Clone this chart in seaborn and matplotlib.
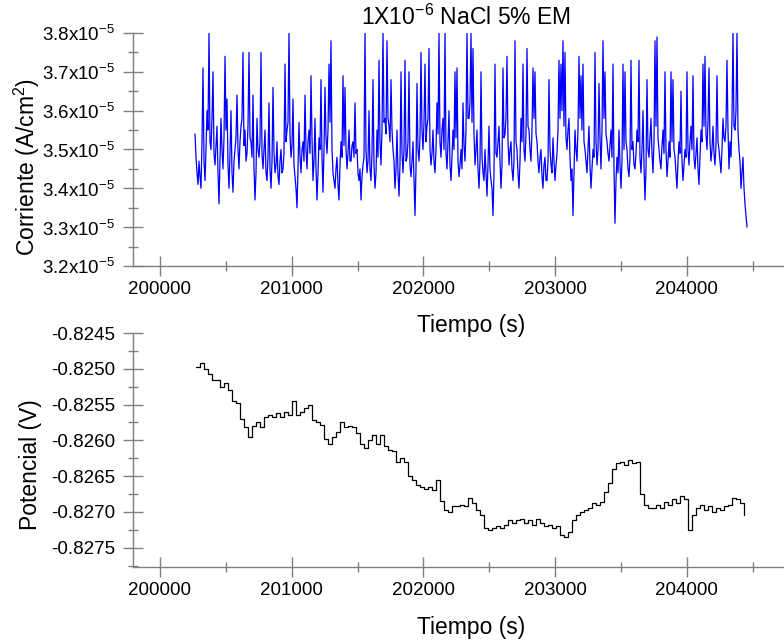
import numpy as np
import pandas as pd
import seaborn as sns
import matplotlib.pyplot as plt
from matplotlib.ticker import MultipleLocator, FuncFormatter


cur_t_start = 200266
cur_t_end = 204457
corriente = [
    3.54, 3.48, 3.44, 3.41, 3.47, 3.43, 3.40, 3.52, 3.71, 3.47, 3.42, 3.50, 3.60, 3.55, 3.80, 3.52, 3.50, 3.58, 3.70, 3.49,
    3.46, 3.51, 3.56, 3.44, 3.36, 3.47, 3.58, 3.50, 3.45, 3.53, 3.74, 3.55, 3.63, 3.46, 3.40, 3.49, 3.60, 3.44, 3.39, 3.47,
    3.50, 3.53, 3.64, 3.50, 3.45, 3.52, 3.56, 3.58, 3.75, 3.51, 3.55, 3.47, 3.49, 3.56, 3.75, 3.53, 3.52, 3.48, 3.64, 3.45,
    3.37, 3.44, 3.58, 3.50, 3.48, 3.52, 3.75, 3.49, 3.45, 3.50, 3.55, 3.44, 3.42, 3.48, 3.62, 3.45, 3.40, 3.47, 3.66, 3.49,
    3.44, 3.46, 3.52, 3.43, 3.41, 3.47, 3.50, 3.44, 3.45, 3.49, 3.72, 3.52, 3.55, 3.57, 3.80, 3.54, 3.48, 3.51, 3.63, 3.46,
    3.43, 3.40, 3.35, 3.45, 3.57, 3.48, 3.44, 3.50, 3.52, 3.47, 3.64, 3.50, 3.45, 3.52, 3.55, 3.49, 3.69, 3.53, 3.42, 3.47,
    3.58, 3.45, 3.37, 3.44, 3.53, 3.50, 3.68, 3.48, 3.39, 3.50, 3.66, 3.53, 3.49, 3.55, 3.72, 3.57, 3.78, 3.50, 3.44, 3.42,
    3.40, 3.45, 3.48, 3.41, 3.37, 3.46, 3.52, 3.48, 3.69, 3.51, 3.66, 3.50, 3.45, 3.49, 3.55, 3.47, 3.47, 3.51, 3.52, 3.48,
    3.62, 3.49, 3.50, 3.44, 3.42, 3.45, 3.37, 3.43, 3.46, 3.48, 3.80, 3.50, 3.44, 3.47, 3.60, 3.45, 3.42, 3.49, 3.68, 3.46,
    3.40, 3.44, 3.55, 3.48, 3.73, 3.52, 3.46, 3.55, 3.80, 3.57, 3.58, 3.54, 3.78, 3.58, 3.56, 3.52, 3.68, 3.55, 3.50, 3.47,
    3.40, 3.45, 3.55, 3.44, 3.38, 3.46, 3.70, 3.49, 3.44, 3.50, 3.73, 3.47, 3.48, 3.52, 3.70, 3.46, 3.43, 3.47, 3.52, 3.42,
    3.33, 3.45, 3.67, 3.50, 3.47, 3.53, 3.75, 3.55, 3.50, 3.57, 3.72, 3.52, 3.56, 3.58, 3.76, 3.50, 3.46, 3.49, 3.55, 3.47,
    3.44, 3.50, 3.62, 3.54, 3.80, 3.52, 3.48, 3.55, 3.58, 3.50, 3.80, 3.49, 3.45, 3.52, 3.60, 3.46, 3.42, 3.48, 3.55, 3.50,
    3.70, 3.53, 3.71, 3.47, 3.43, 3.46, 3.50, 3.45, 3.62, 3.51, 3.47, 3.55, 3.80, 3.58, 3.58, 3.62, 3.80, 3.57, 3.76, 3.54,
    3.46, 3.50, 3.55, 3.45, 3.40, 3.47, 3.70, 3.48, 3.44, 3.42, 3.50, 3.44, 3.38, 3.46, 3.56, 3.45, 3.42, 3.40, 3.33, 3.44,
    3.72, 3.49, 3.48, 3.52, 3.56, 3.47, 3.40, 3.46, 3.71, 3.53, 3.54, 3.58, 3.74, 3.52, 3.46, 3.50, 3.52, 3.45, 3.42, 3.47,
    3.78, 3.52, 3.50, 3.44, 3.40, 3.47, 3.58, 3.52, 3.72, 3.50, 3.47, 3.54, 3.76, 3.56, 3.55, 3.50, 3.47, 3.55, 3.71, 3.58,
    3.70, 3.54, 3.52, 3.47, 3.44, 3.48, 3.50, 3.43, 3.40, 3.46, 3.48, 3.42, 3.42, 3.47, 3.68, 3.50, 3.46, 3.44, 3.53, 3.47,
    3.42, 3.46, 3.49, 3.55, 3.73, 3.58, 3.72, 3.60, 3.78, 3.56, 3.75, 3.53, 3.50, 3.55, 3.58, 3.48, 3.42, 3.45, 3.33, 3.44,
    3.55, 3.50, 3.47, 3.55, 3.74, 3.58, 3.69, 3.55, 3.72, 3.52, 3.50, 3.47, 3.44, 3.50, 3.56, 3.46, 3.40, 3.45, 3.50, 3.48,
    3.75, 3.52, 3.46, 3.50, 3.67, 3.53, 3.45, 3.55, 3.78, 3.58, 3.70, 3.54, 3.52, 3.49, 3.47, 3.51, 3.55, 3.48, 3.72, 3.45,
    3.31, 3.42, 3.48, 3.44, 3.55, 3.46, 3.40, 3.47, 3.72, 3.50, 3.70, 3.52, 3.50, 3.45, 3.43, 3.48, 3.73, 3.50, 3.52, 3.46,
    3.45, 3.49, 3.55, 3.52, 3.73, 3.48, 3.44, 3.50, 3.60, 3.46, 3.37, 3.45, 3.68, 3.50, 3.48, 3.53, 3.58, 3.49, 3.44, 3.52,
    3.78, 3.56, 3.79, 3.53, 3.50, 3.47, 3.45, 3.51, 3.55, 3.49, 3.70, 3.50, 3.43, 3.47, 3.52, 3.48, 3.70, 3.52, 3.68, 3.50,
    3.48, 3.44, 3.40, 3.47, 3.52, 3.49, 3.65, 3.47, 3.42, 3.46, 3.50, 3.48, 3.70, 3.50, 3.46, 3.52, 3.56, 3.50, 3.69, 3.48,
    3.45, 3.49, 3.53, 3.45, 3.41, 3.48, 3.55, 3.52, 3.72, 3.56, 3.74, 3.54, 3.50, 3.57, 3.71, 3.52, 3.47, 3.50, 3.56, 3.49,
    3.46, 3.51, 3.69, 3.52, 3.50, 3.47, 3.44, 3.50, 3.58, 3.53, 3.52, 3.56, 3.73, 3.55, 3.45, 3.52, 3.48, 3.58, 3.80, 3.56,
    3.55, 3.60, 3.80, 3.55, 3.50, 3.47, 3.40, 3.44, 3.48, 3.40, 3.36, 3.33, 3.30,
]

pot_t_start = 200273
pot_t_end = 204434
potencial = [
    -0.82497, -0.82492, -0.82500, -0.82507, -0.82515, -0.82515, -0.82525, -0.82520, -0.82530, -0.82545,
    -0.82548, -0.82570, -0.82582, -0.82595, -0.82580, -0.82575, -0.82582, -0.82568, -0.82565, -0.82568,
    -0.82562, -0.82568, -0.82560, -0.82565, -0.82545, -0.82565, -0.82560, -0.82555, -0.82550, -0.82572,
    -0.82575, -0.82578, -0.82598, -0.82605, -0.82595, -0.82588, -0.82575, -0.82582, -0.82580, -0.82582,
    -0.82590, -0.82605, -0.82610, -0.82600, -0.82592, -0.82605, -0.82592, -0.82608, -0.82613, -0.82615,
    -0.82630, -0.82625, -0.82630, -0.82650, -0.82656, -0.82662, -0.82665, -0.82668, -0.82665, -0.82670,
    -0.82655, -0.82685, -0.82698, -0.82700, -0.82692, -0.82692, -0.82690, -0.82692, -0.82680, -0.82688,
    -0.82698, -0.82705, -0.82722, -0.82725, -0.82722, -0.82720, -0.82722, -0.82718, -0.82712, -0.82715,
    -0.82712, -0.82710, -0.82715, -0.82712, -0.82718, -0.82710, -0.82716, -0.82720, -0.82718, -0.82722,
    -0.82720, -0.82732, -0.82735, -0.82728, -0.82712, -0.82705, -0.82700, -0.82698, -0.82695, -0.82688,
    -0.82690, -0.82686, -0.82672, -0.82660, -0.82640, -0.82632, -0.82630, -0.82635, -0.82628, -0.82632,
    -0.82630, -0.82675, -0.82690, -0.82694, -0.82694, -0.82690, -0.82695, -0.82686, -0.82690, -0.82682,
    -0.82688, -0.82678, -0.82682, -0.82725, -0.82705, -0.82695, -0.82690, -0.82698, -0.82692, -0.82700,
    -0.82695, -0.82698, -0.82692, -0.82690, -0.82680, -0.82682, -0.82688, -0.82705,
]

titulo = "1X10$^{\\mathregular{-6}}$ NaCl 5% EM"

df_cur = pd.DataFrame({
    "t": np.linspace(cur_t_start, cur_t_end, len(corriente)),
    "i": np.array(corriente) * 1e-5,
})
df_pot = pd.DataFrame({
    "t": np.linspace(pot_t_start, pot_t_end, len(potencial)),
    "v": potencial,
})

sns.set_theme(style="white")
plt.rcParams["font.family"] = ["Liberation Sans", "DejaVu Sans"]
plt.rcParams["text.color"] = "black"
plt.rcParams["axes.labelcolor"] = "black"

fig = plt.figure(figsize=(7.84, 6.42), dpi=100)
ax1 = fig.add_axes([0.1696, 0.5857, 0.8304, 0.3629])
ax2 = fig.add_axes([0.1696, 0.1168, 0.8304, 0.3645])

sns.lineplot(data=df_cur, x="t", y="i", ax=ax1, color="#0000ff",
             linewidth=0.9, estimator=None)
sns.lineplot(data=df_pot, x="t", y="v", ax=ax2, color="black",
             linewidth=0.9, estimator=None, drawstyle="steps-post")

gris = "#7f7f7f"
for ax in (ax1, ax2):
    ax.set_xlim(199795, 204738)
    ax.xaxis.set_major_locator(MultipleLocator(1000))
    ax.xaxis.set_minor_locator(MultipleLocator(500))
    ax.spines["top"].set_visible(False)
    ax.spines["right"].set_visible(False)
    for s in ("left", "bottom"):
        ax.spines[s].set_color(gris)
        ax.spines[s].set_linewidth(1.0)
    ax.tick_params(which="major", direction="inout", length=14, width=1,
                   color=gris, labelsize=13.5, labelcolor="black")
    ax.tick_params(which="minor", direction="inout", length=7, width=1,
                   color=gris)
    ax.tick_params(axis="x", which="both", bottom=True, pad=4)
    ax.tick_params(axis="y", which="both", left=True, pad=6)
    ax.set_xlabel("Tiempo (s)", fontsize=16.5)
    ax.patch.set_alpha(0)

ax1.set_ylim(3.2e-5, 3.8e-5)
ax1.yaxis.set_major_locator(MultipleLocator(0.1e-5))
ax1.yaxis.set_minor_locator(MultipleLocator(0.05e-5))
ax1.yaxis.set_major_formatter(FuncFormatter(
    lambda v, p: "%.1fx10$^{\\mathregular{-5}}$" % (v * 1e5)))
ax1.set_ylabel("Corriente (A/cm$^{\\mathregular{2}}$)", fontsize=16.5)
ax1.xaxis.set_label_coords(0.52, -0.205)
ax1.yaxis.set_label_coords(-0.14, 0.425)

ax2.set_ylim(-0.82777, -0.8245)
ax2.yaxis.set_major_locator(MultipleLocator(0.0005))
ax2.yaxis.set_minor_locator(MultipleLocator(0.00025))
ax2.yaxis.set_major_formatter(FuncFormatter(lambda v, p: "%.4f" % v))
ax2.set_ylabel("Potencial (V)", fontsize=16.5)
ax2.xaxis.set_label_coords(0.52, -0.208)
ax2.yaxis.set_label_coords(-0.14, 0.436)

fig.text(466 / 784, 1 - 17 / 642, titulo, fontsize=16.5, ha="center", va="center")

fig.savefig("out.png", dpi=100)
